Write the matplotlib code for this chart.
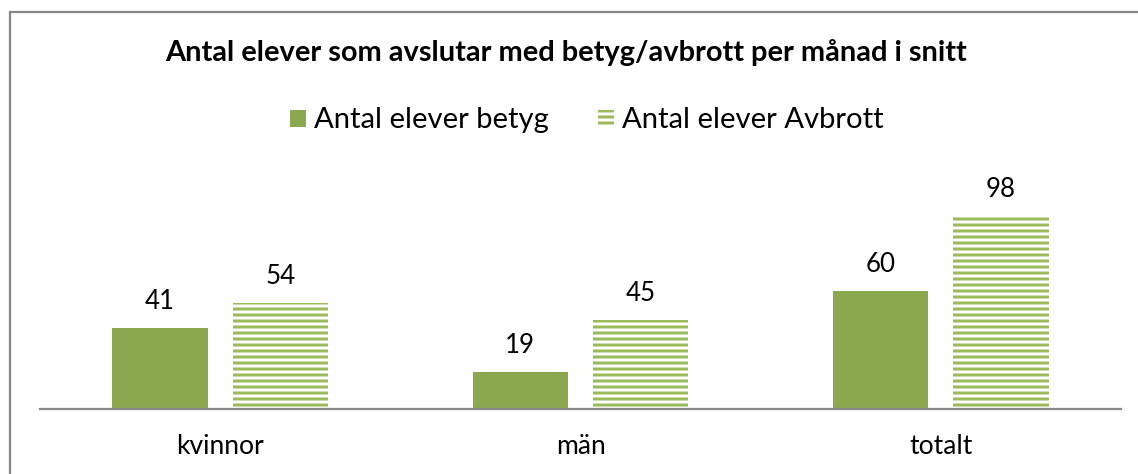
import matplotlib
matplotlib.use("Agg")
import matplotlib.pyplot as plt
from matplotlib.patches import Patch, Rectangle
import numpy as np

categories = ["kvinnor", "män", "totalt"]
series_names = ["Antal elever betyg", "Antal elever Avbrott"]
betyg = [41, 19, 60]
avbrott = [54, 45, 98]
title = "Antal elever som avslutar med betyg/avbrott per månad i snitt"

DPI = 108
W, H = 1138, 474
plt.rcParams['font.family'] = ['Lato', 'DejaVu Sans']
plt.rcParams['hatch.linewidth'] = 2.0


def px(p):
    return p * 72 / DPI


fig = plt.figure(figsize=(W / DPI, H / DPI), dpi=DPI)
ax = fig.add_axes([40 / W, 1 - 409 / H, (1121 - 40) / W, (409 - 170) / H])

solid_c = "#8BA84E"
stripe_c = "#9BBB59"
x = np.arange(len(categories))
bw = 0.264
off = 0.167
b1 = ax.bar(x - off, betyg, bw, color=solid_c, edgecolor=solid_c, linewidth=0)
b2 = ax.bar(x + off, avbrott, bw, facecolor="white", edgecolor=stripe_c,
            hatch="---", linewidth=0)

ax.set_xlim(-0.5, 2.5)
ax.set_ylim(0, (409 - 170) / 1.97)
for s in ["top", "right", "left"]:
    ax.spines[s].set_visible(False)
ax.spines["bottom"].set_color("#888888")
ax.spines["bottom"].set_linewidth(1.5)
ax.set_yticks([])
ax.set_xticks(x)
ax.set_xticklabels(categories, fontsize=px(17))
ax.tick_params(axis="x", length=0, pad=px(25))

labels = []
for bars, vals in ((b1, betyg), (b2, avbrott)):
    for r, v in zip(bars, vals):
        a = ax.annotate(str(v), (r.get_x() + r.get_width() / 2, v),
                        xytext=(0, px(14)), textcoords="offset points",
                        ha="center", va="bottom", fontsize=px(25), color="#000000")
        labels.append(a)

t = fig.text(566 / W, 1 - 52 / H, title, ha="center", va="center",
             fontsize=px(26), fontweight="bold")

handles = [Patch(facecolor=solid_c, edgecolor=solid_c, linewidth=0),
           Patch(facecolor="white", edgecolor=stripe_c, hatch="---", linewidth=0)]
leg = fig.legend(handles, series_names, loc="center", bbox_to_anchor=(587 / W, 1 - 120 / H),
                 ncol=2, frameon=False, fontsize=px(27), handlelength=0.6,
                 handleheight=0.6, handletextpad=0.3, columnspacing=1.8)

# fit font sizes to target widths
fig.canvas.draw()
r = fig.canvas.get_renderer()


def fit(txt, target):
    w = txt.get_window_extent(r).width
    txt.set_fontsize(txt.get_fontsize() * target / w)


fit(t, 805)
fit(leg.get_texts()[0], 235)
leg.get_texts()[1].set_fontsize(leg.get_texts()[0].get_fontsize())
lab = ax.get_xticklabels()[0]
fs0 = lab.get_fontsize()
w0 = lab.get_window_extent(r).width
for l in ax.get_xticklabels():
    l.set_fontsize(fs0 * 88 / w0)
fsl = labels[0].get_fontsize()
wl = labels[0].get_window_extent(r).width
for a in labels:
    a.set_fontsize(fsl * 30 / wl)

# border
fig.add_artist(Rectangle((10 / W, -0.1), 1.2, 1 - 12 / H + 0.1, transform=fig.transFigure,
                         fill=False, edgecolor="#888888", linewidth=1.5))

fig.savefig("out.png", dpi=DPI)
